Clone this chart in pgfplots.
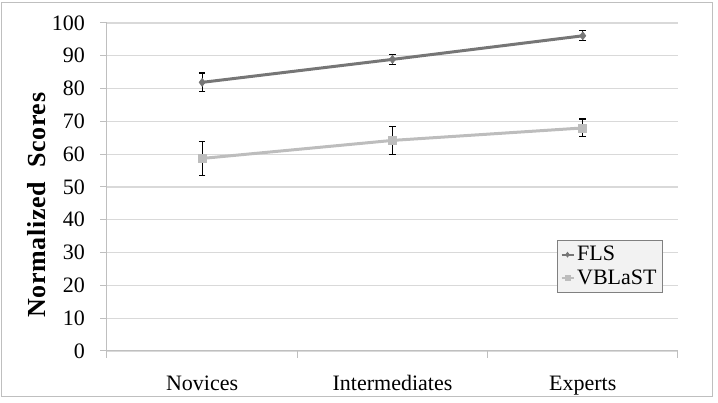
\documentclass[border=0pt]{standalone}
\usepackage{pgfplots}
\pgfplotsset{compat=1.18}
\usepackage{fontspec}
\setmainfont{Liberation Serif}
\definecolor{flsc}{HTML}{767676}
\definecolor{vbc}{HTML}{BDBDBD}
\definecolor{gridc}{HTML}{D9D9D9}
\definecolor{axc}{HTML}{BFBFBF}
\begin{document}
\begin{tikzpicture}
\begin{axis}[
  scale only axis,
  width=428.25pt, height=246pt,
  xmin=0.5, xmax=3.5, ymin=0, ymax=100,
  axis x line*=bottom, axis y line*=left,
  axis line style={axc, line width=0.75pt, -},
  xtick={1,2,3}, xticklabels={Novices,Intermediates,Experts},
  minor xtick={0.5,1.5,2.5,3.5},
  major x tick style={draw=none},
  minor x tick style={axc, line width=0.75pt},
  minor tick length=5pt,
  ytick={0,10,...,100},
  major tick length=5pt,
  y tick style={axc, line width=0.75pt},
  tick align=outside,
  ymajorgrids, grid style={gridc, line width=1pt},
  /pgf/number format/assume math mode=true,
  tick label style={font=\fontsize{16.5}{18}\selectfont, black},
  yticklabel style={xshift=-8pt},
  xticklabel style={yshift=-10pt},
  ylabel={\textbf{Normalized\ \ Scores}},
  ylabel style={at={(ticklabel cs:0.445)}, font=\addfontfeatures{LetterSpace=2.5}\fontsize{19.5}{22}\selectfont, yshift=-2pt},
  clip=false,
  legend style={at={(0.788,0.338)}, anchor=north west, fill=black!5, draw=black!50,
    font=\fontsize{16.5}{18}\selectfont, row sep=1pt, inner sep=2.5pt,
    legend cell align=left},
  legend image code/.code={\draw[#1, mark=none, line width=1.5pt] (0pt,0pt) -- (9pt,0pt); \draw[#1, mark size=1.8pt] plot coordinates {(4.5pt,0pt)};},
]
\addplot[flsc, line width=2.25pt, mark=diamond*, mark size=3pt, mark options={solid, line width=0.5pt},
  error bars/.cd, y dir=both, y explicit,
  error bar style={black, line width=0.9pt},
  error mark options={rotate=90, mark size=2.5pt, black, line width=0.9pt}]
  coordinates {
  (1,81.9) +- (0,2.85)
  (2,88.9) +- (0,1.55)
  (3,96.1) +- (0,1.5)
  };
\addlegendentry{FLS}
\addplot[vbc, line width=2.25pt, mark=square*, mark size=3pt, mark options={solid, line width=0.5pt},
  error bars/.cd, y dir=both, y explicit,
  error bar style={black, line width=0.9pt},
  error mark options={rotate=90, mark size=2.5pt, black, line width=0.9pt}]
  coordinates {
  (1,58.7) +- (0,5.1)
  (2,64.2) +- (0,4.3)
  (3,68.0) +- (0,2.7)
  };
\addlegendentry{VBLaST\hspace{5pt}}
\draw[axc, line width=0.75pt] (rel axis cs:-0.1839,-0.1402) rectangle (rel axis cs:1.0613,1.0610);
\path (rel axis cs:-0.1874,-0.1585) rectangle (rel axis cs:1.0701,1.0701);
\end{axis}
\end{tikzpicture}
\end{document}
